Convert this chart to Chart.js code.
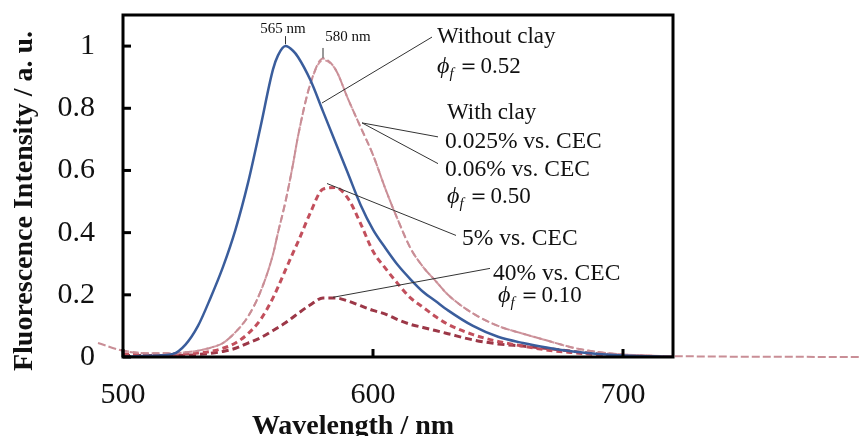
<!DOCTYPE html>
<html>
<head>
<meta charset="utf-8">
<script src="https://cdn.jsdelivr.net/npm/chart.js@4.4.1/dist/chart.umd.min.js"></script>
<style>
  html, body { margin: 0; padding: 0; background: #fff; }
  #wrap { width: 859px; height: 436px; }
</style>
</head>
<body>
<div id="wrap"><canvas id="chart" width="859" height="436"></canvas></div>
<script>
// longueurs d'onde (nm)
const wavelengths = [500, 510, 520, 525, 530, 535, 540, 545, 550, 555, 560, 562, 565, 568, 570, 575, 580, 585, 590, 595, 600, 605, 610, 615, 620, 625, 630, 640, 650, 660, 670, 680, 690, 700, 720];
// la courbe 0.025 % déborde du cadre dans la figure d'origine
const wavelengthsWide = [490, 500, 510, 520, 525, 530, 535, 540, 545, 550, 555, 560, 562, 565, 568, 570, 575, 580, 585, 590, 595, 600, 605, 610, 615, 620, 625, 630, 640, 650, 660, 670, 680, 690, 700, 710, 795];

// intensités
const withoutClay = [0, 0.004, 0.01, 0.04, 0.1, 0.19, 0.29, 0.41, 0.56, 0.74, 0.925, 0.97, 1.0, 0.985, 0.965, 0.89, 0.79, 0.69, 0.59, 0.49, 0.41, 0.35, 0.295, 0.25, 0.21, 0.18, 0.15, 0.1, 0.065, 0.045, 0.03, 0.018, 0.01, 0.005, 0];
const clay0025 = [0.045, 0.02, 0.012, 0.012, 0.015, 0.02, 0.03, 0.045, 0.08, 0.13, 0.21, 0.33, 0.4, 0.5, 0.62, 0.71, 0.88, 0.96, 0.925, 0.83, 0.74, 0.65, 0.54, 0.44, 0.35, 0.29, 0.245, 0.2, 0.14, 0.1, 0.075, 0.052, 0.03, 0.016, 0.008, 0.004, 0];
const clay006 = [0.02, 0.012, 0.012, 0.015, 0.02, 0.03, 0.045, 0.08, 0.13, 0.21, 0.33, 0.4, 0.5, 0.62, 0.71, 0.88, 0.955, 0.925, 0.83, 0.74, 0.65, 0.54, 0.44, 0.35, 0.29, 0.245, 0.2, 0.14, 0.1, 0.075, 0.052, 0.03, 0.016, 0.008, 0.002];
const clay5 = [0.01, 0.008, 0.008, 0.01, 0.013, 0.018, 0.028, 0.045, 0.075, 0.12, 0.19, 0.225, 0.28, 0.335, 0.37, 0.465, 0.54, 0.545, 0.51, 0.43, 0.34, 0.285, 0.235, 0.19, 0.16, 0.13, 0.105, 0.072, 0.05, 0.035, 0.022, 0.014, 0.008, 0.005, 0];
const clay40 = [0.005, 0.005, 0.005, 0.006, 0.008, 0.012, 0.018, 0.028, 0.045, 0.062, 0.085, 0.095, 0.11, 0.128, 0.14, 0.168, 0.19, 0.19, 0.18, 0.165, 0.15, 0.138, 0.12, 0.105, 0.095, 0.085, 0.075, 0.055, 0.042, 0.035, 0.027, 0.018, 0.01, 0.005, 0];

const xTicks = [500, 600, 700];
const yTicks = [0, 0.2, 0.4, 0.6, 0.8, 1];

const SERIF = '"Liberation Serif", "DejaVu Serif", serif';

function toPoints(xs, ys) {
    return xs.map((x, i) => ({ x: x, y: ys[i] }));
}

// Annotations (position en coordonnées des données : [nm, intensité])
const labels = [
    { text: '565 nm', at: [564, 1.042], size: 15, align: 'center' },
    { text: '580 nm', at: [590, 1.016], size: 15, align: 'center' },
    { text: 'Without clay', at: [625.6, 1.01], size: 23 },
    { phi: '0.52', at: [625.6, 0.913] },
    { text: 'With clay', at: [629.6, 0.766], size: 23 },
    { text: '0.025% vs. CEC', at: [628.8, 0.673], size: 23.5 },
    { text: '0.06% vs. CEC', at: [628.8, 0.583], size: 23.5 },
    { phi: '0.50', at: [629.6, 0.494] },
    { text: '5% vs. CEC', at: [635.6, 0.359], size: 23.5 },
    { text: '40% vs. CEC', at: [648, 0.247], size: 23.5 },
    { phi: '0.10', at: [650, 0.176] }
];
const leaders = [
    [[565, 1.032], [565, 1.006]],
    [[580, 0.994], [580, 0.962]],
    [[579.6, 0.817], [623.6, 1.029]],
    [[595.6, 0.753], [626, 0.708]],
    [[595.6, 0.753], [626, 0.622]],
    [[581.6, 0.558], [633.2, 0.391]],
    [[584, 0.192], [646.8, 0.285]]
];

const decorPlugin = {
    id: 'decor',
    afterDatasetsDraw(chart) {
        const { ctx, chartArea: a, scales: { x, y } } = chart;
        const P = (p) => [x.getPixelForValue(p[0]), y.getPixelForValue(p[1])];
        ctx.save();

        // traits de repère internes
        ctx.strokeStyle = '#000';
        ctx.lineWidth = 3;
        yTicks.forEach(v => {
            const py = y.getPixelForValue(v);
            ctx.beginPath(); ctx.moveTo(a.left, py); ctx.lineTo(a.left + 8, py); ctx.stroke();
        });
        xTicks.forEach(v => {
            const px = x.getPixelForValue(v);
            ctx.beginPath(); ctx.moveTo(px, a.bottom); ctx.lineTo(px, a.bottom - 8); ctx.stroke();
        });

        // cadre
        ctx.lineWidth = 3;
        ctx.strokeRect(a.left, a.top, a.right - a.left, a.bottom - a.top);

        // lignes de rappel
        ctx.lineWidth = 1;
        ctx.strokeStyle = '#333';
        leaders.forEach(([p, q]) => {
            const s = P(p), e = P(q);
            ctx.beginPath(); ctx.moveTo(s[0], s[1]); ctx.lineTo(e[0], e[1]); ctx.stroke();
        });

        // textes
        ctx.fillStyle = '#111';
        ctx.textBaseline = 'alphabetic';
        labels.forEach(l => {
            const [px, py] = P(l.at);
            if (l.phi) {
                ctx.textAlign = 'left';
                ctx.font = 'italic 24px ' + SERIF;
                ctx.fillText('\u03D5', px, py);
                const w1 = ctx.measureText('\u03D5').width;
                ctx.font = 'italic 15px ' + SERIF;
                ctx.fillText('f', px + w1, py + 5);
                ctx.font = '23px ' + SERIF;
                ctx.fillText('\uFF1D0.' + l.phi.split('.')[1], px + w1 + 8, py);
            } else {
                ctx.textAlign = l.align || 'left';
                ctx.font = l.size + 'px ' + SERIF;
                ctx.fillText(l.text, px, py);
            }
        });

        // titres des axes
        ctx.font = 'bold 28px ' + SERIF;
        ctx.textAlign = 'center';
        ctx.fillText('Wavelength / nm', 353, 434);
        ctx.translate(32, 201);
        ctx.rotate(-Math.PI / 2);
        ctx.fillText('Fluorescence Intensity / a. u.', 0, 0);
        ctx.restore();
    }
};

const ctx = document.getElementById('chart').getContext('2d');
new Chart(ctx, {
    type: 'line',
    data: {
        datasets: [
            {
                label: 'Without clay',
                data: toPoints(wavelengths, withoutClay),
                borderColor: '#3a5d9c',
                borderWidth: 2.5
            },
            {
                label: '0.025% vs. CEC',
                data: toPoints(wavelengthsWide, clay0025),
                borderColor: '#c98e96',
                borderWidth: 2,
                borderDash: [8, 3],
                clip: false
            },
            {
                label: '0.06% vs. CEC',
                data: toPoints(wavelengths, clay006),
                borderColor: '#d29aa2',
                borderWidth: 2,
                borderDash: [6, 4]
            },
            {
                label: '5% vs. CEC',
                data: toPoints(wavelengths, clay5),
                borderColor: '#c24f5c',
                borderWidth: 3,
                borderDash: [6, 4]
            },
            {
                label: '40% vs. CEC',
                data: toPoints(wavelengths, clay40),
                borderColor: '#9c3747',
                borderWidth: 3,
                borderDash: [7, 4]
            }
        ]
    },
    options: {
        responsive: false,
        animation: false,
        layout: { padding: { left: 0, top: 15, right: 186, bottom: 0 } },
        elements: {
            point: { radius: 0 },
            line: { cubicInterpolationMode: 'monotone', fill: false }
        },
        plugins: {
            legend: { display: false },
            tooltip: { enabled: false }
        },
        scales: {
            x: {
                type: 'linear',
                min: 500,
                max: 720,
                afterFit: (s) => { s.height = 79; s.paddingLeft = 0; s.paddingRight = 0; },
                afterBuildTicks: (s) => { s.ticks = xTicks.map(v => ({ value: v })); },
                grid: { display: false, drawTicks: false },
                border: { display: false },
                ticks: {
                    color: '#111',
                    font: { family: SERIF, size: 30 },
                    padding: 20,
                    maxRotation: 0
                }
            },
            y: {
                min: 0,
                max: 1.1,
                afterFit: (s) => { s.width = 123; s.paddingTop = 0; s.paddingBottom = 0; },
                afterBuildTicks: (s) => { s.ticks = yTicks.map(v => ({ value: v })); },
                grid: { display: false, drawTicks: false },
                border: { display: false },
                ticks: {
                    color: '#111',
                    font: { family: SERIF, size: 30 },
                    padding: 28,
                    callback: (v) => String(v)
                }
            }
        }
    },
    plugins: [decorPlugin]
});
</script>
</body>
</html>
